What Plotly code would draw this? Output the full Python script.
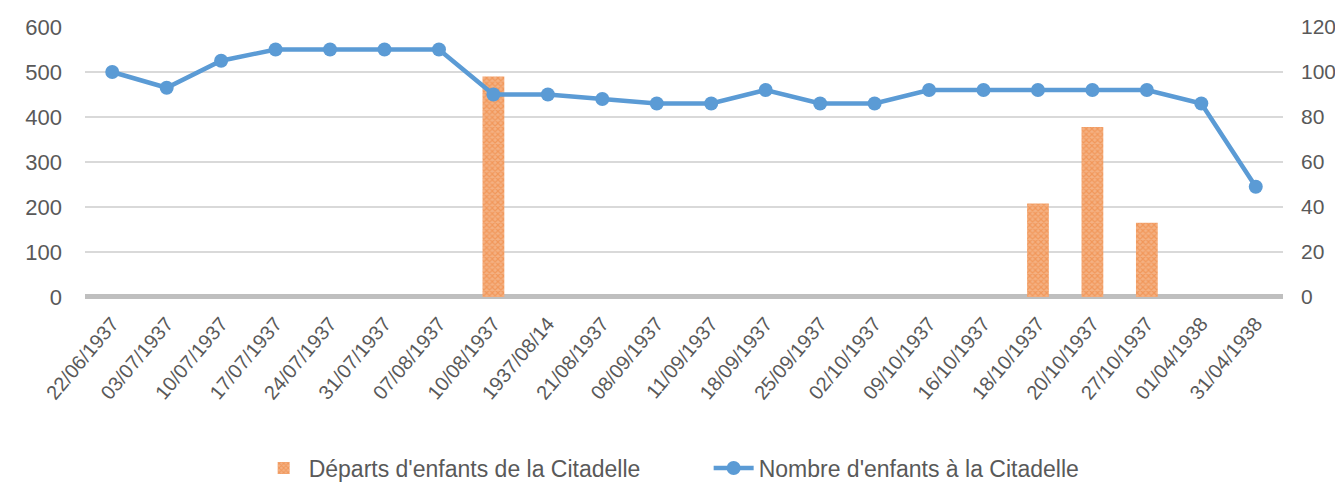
import plotly.graph_objects as go

dates = ["22/06/1937", "03/07/1937", "10/07/1937", "17/07/1937", "24/07/1937",
         "31/07/1937", "07/08/1937", "10/08/1937", "1937/08/14", "21/08/1937",
         "08/09/1937", "11/09/1937", "18/09/1937", "25/09/1937", "02/10/1937",
         "09/10/1937", "16/10/1937", "18/10/1937", "20/10/1937", "27/10/1937",
         "01/04/1938", "31/04/1938"]
departs = [None, None, None, None, None, None, None, 490, None, None,
           None, None, None, None, None, None, None, 208, 378, 165, None, None]
nombre = [100, 93, 105, 110, 110, 110, 110, 90, 90, 88,
          86, 86, 92, 86, 86, 92, 92, 92, 92, 92, 86, 49]

FONT = "Liberation Sans, Arial"
TXT = "#595959"

fig = go.Figure()
fig.add_trace(go.Bar(
    x=dates, y=departs, name="Départs d'enfants de la Citadelle",
    marker=dict(color="#F4B183", line=dict(width=0),
                pattern=dict(shape="x", fgcolor="#ED7D31", size=4, solidity=0.5)),
    yaxis="y"))
fig.add_trace(go.Scatter(
    x=dates, y=nombre, name="Nombre d'enfants à la Citadelle",
    mode="lines+markers", line=dict(color="#5B9BD5", width=4.5),
    marker=dict(color="#5B9BD5", size=14), yaxis="y2"))

fig.update_layout(
    width=1327, height=486,
    margin=dict(l=0, r=0, t=0, b=0),
    plot_bgcolor="white", paper_bgcolor="white",
    font=dict(family=FONT, size=20, color=TXT),
    bargap=0.6,
    showlegend=True,
    legend=dict(orientation="h", x=0.528, xanchor="center", y=0.0535, yanchor="middle",
                font=dict(family=FONT, size=23, color=TXT), itemwidth=40,
                entrywidth=395, entrywidthmode="pixels"),
    xaxis=dict(type="category", range=[-0.5, len(dates) - 0.5], tickangle=-50,
               domain=[0.05803, 0.96081],
               showgrid=False, showline=False,
               ticks="", automargin=False, ticklabelstandoff=10,
               tickfont=dict(family=FONT, size=20, color=TXT)),
    yaxis=dict(range=[0, 600], dtick=100, domain=[0.40535, 0.96091],
               showgrid=True, gridcolor="#D9D9D9", gridwidth=1.5,
               zeroline=True, zerolinecolor="#BFBFBF", zerolinewidth=5,
               showline=False, ticks="", ticklabelstandoff=22, automargin=False,
               tickfont=dict(family=FONT, size=22, color=TXT)),
    yaxis2=dict(range=[0, 120], dtick=20, overlaying="y", side="right",
                showgrid=False, zeroline=False, showline=False, ticks="",
                ticklabelstandoff=17, automargin=False,
                tickfont=dict(family=FONT, size=21, color=TXT)),
)

fig.write_html("out.html")
